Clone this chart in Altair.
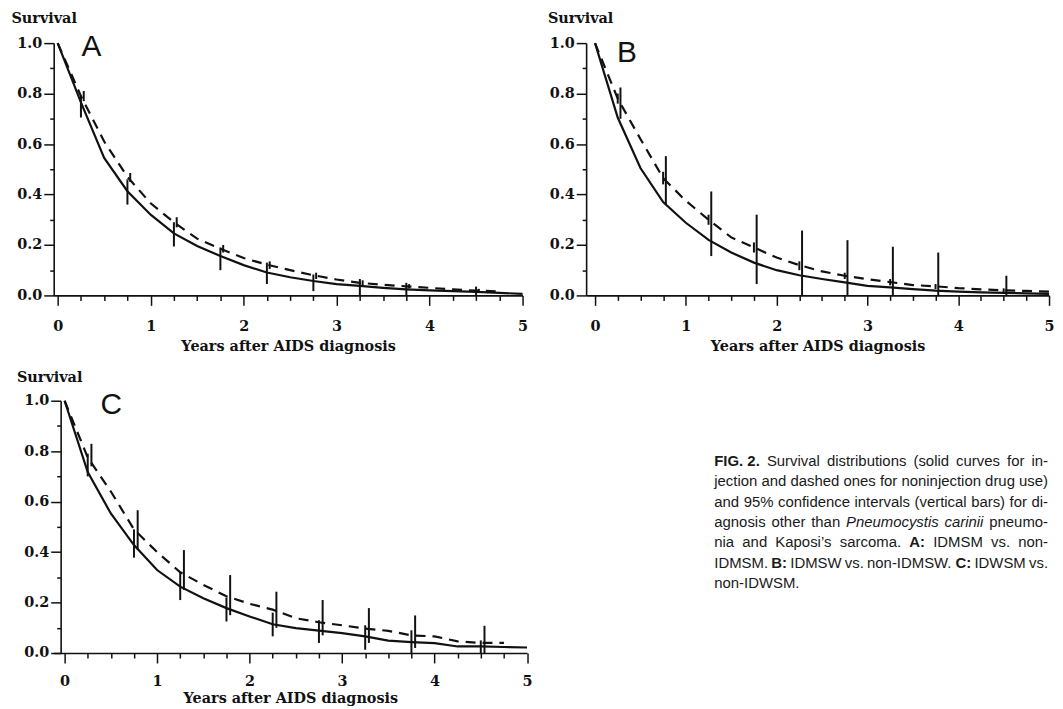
import altair as alt
import pandas as pd

# ---------------- data ----------------
t_grid = [0.0, 0.25, 0.5, 0.75, 1.0, 1.25, 1.5, 1.75, 2.0, 2.25, 2.5,
          2.75, 3.0, 3.25, 3.5, 3.75, 4.0, 4.25, 4.5, 4.75, 5.0]

a_solid = [1.0, 0.765, 0.545, 0.413, 0.32, 0.246, 0.196, 0.156, 0.12, 0.091, 0.072,
           0.057, 0.045, 0.038, 0.03, 0.024, 0.02, 0.017, 0.014, 0.01, 0.006]
a_dashed = [1.0, 0.79, 0.61, 0.47, 0.365, 0.29, 0.225, 0.185, 0.148, 0.122, 0.1,
            0.08, 0.063, 0.05, 0.042, 0.036, 0.03, 0.024, 0.019, 0.016]
b_solid = [1.0, 0.705, 0.505, 0.37, 0.288, 0.22, 0.17, 0.13, 0.10, 0.08, 0.065,
           0.052, 0.038, 0.032, 0.025, 0.019, 0.015, 0.012, 0.01, 0.008, 0.006]
b_dashed = [1.0, 0.78, 0.62, 0.465, 0.375, 0.30, 0.23, 0.19, 0.15, 0.12, 0.095,
            0.078, 0.064, 0.053, 0.041, 0.036, 0.029, 0.024, 0.02, 0.018, 0.015]
c_solid = [1.0, 0.717, 0.553, 0.428, 0.329, 0.263, 0.217, 0.178, 0.145, 0.114, 0.099,
           0.089, 0.079, 0.066, 0.049, 0.043, 0.039, 0.026, 0.026, 0.024, 0.022]
c_dashed = [1.0, 0.775, 0.64, 0.49, 0.40, 0.32, 0.27, 0.225, 0.195, 0.172, 0.138,
            0.122, 0.11, 0.097, 0.088, 0.07, 0.066, 0.046, 0.04, 0.04]

ci_t = [0.25, 0.75, 1.25, 1.75, 2.25, 2.75, 3.25, 3.75, 4.5]
a_solid_lo = [0.705, 0.36, 0.194, 0.10, 0.045, 0.017, 0.0, 0.0, 0.0]
a_solid_hi = [0.787, 0.46, 0.29, 0.19, 0.13, 0.083, 0.065, 0.05, 0.035]
a_dash_lo = [0.77, 0.45, 0.27, 0.17, 0.105, 0.065, 0.04, 0.028, 0.012]
a_dash_hi = [0.81, 0.485, 0.31, 0.20, 0.135, 0.09, 0.06, 0.045, 0.026]
b_solid_lo = [0.70, 0.36, 0.156, 0.045, 0.0, 0.0, 0.0, 0.0, 0.0]
b_solid_hi = [0.824, 0.552, 0.412, 0.32, 0.257, 0.219, 0.193, 0.17, 0.078]
b_dash_lo = [0.76, 0.44, 0.28, 0.17, 0.10, 0.065, 0.04, 0.025, 0.012]
b_dash_hi = [0.80, 0.49, 0.32, 0.21, 0.135, 0.09, 0.065, 0.045, 0.028]
c_solid_lo = [0.70, 0.378, 0.21, 0.125, 0.066, 0.04, 0.013, 0.0, 0.0]
c_solid_hi = [0.79, 0.49, 0.32, 0.22, 0.16, 0.13, 0.11, 0.09, 0.05]
c_dash_lo = [0.74, 0.41, 0.25, 0.15, 0.10, 0.07, 0.04, 0.02, 0.0]
c_dash_hi = [0.829, 0.566, 0.408, 0.309, 0.243, 0.21, 0.178, 0.149, 0.108]

x_ticks = [0.0, 0.25, 0.5, 0.75, 1.0, 1.25, 1.5, 1.75, 2.0, 2.25, 2.5, 2.75,
           3.0, 3.25, 3.5, 3.75, 4.0, 4.25, 4.5, 4.75, 5.0]
y_ticks = [0.0, 0.1, 0.2, 0.3, 0.4, 0.5, 0.6, 0.7, 0.8, 0.9, 1.0]

x_title = "Years after AIDS diagnosis"
y_title = "Survival"
panel_letters = ["A", "B", "C"]

caption_lines = [
    [("FIG. 2.", "b"), ("Survival", "n"), ("distributions", "n"), ("(solid", "n"),
     ("curves", "n"), ("for", "n"), ("in-", "n")],
    [("jection", "n"), ("and", "n"), ("dashed", "n"), ("ones", "n"), ("for", "n"),
     ("noninjection", "n"), ("drug", "n"), ("use)", "n")],
    [("and", "n"), ("95%", "n"), ("confidence", "n"), ("intervals", "n"),
     ("(vertical", "n"), ("bars)", "n"), ("for", "n"), ("di-", "n")],
    [("agnosis", "n"), ("other", "n"), ("than", "n"), ("Pneumocystis", "i"),
     ("carinii", "i"), ("pneumo-", "n")],
    [("nia", "n"), ("and", "n"), ("Kaposi\u2019s", "n"), ("sarcoma.", "n"), ("A:", "b"),
     ("IDMSM", "n"), ("vs.", "n"), ("non-", "n")],
    [("IDMSM.", "n"), ("B:", "b"), ("IDMSW", "n"), ("vs.", "n"), ("non-IDMSW.", "n"),
     ("C:", "b"), ("IDWSM", "n"), ("vs.", "n")],
    [("non-IDWSM.", "n")],
]

# ---------------- text measuring (Arial / Liberation Sans metrics) ----------------
REG = {' ': 278, '%': 889, '(': 333, ')': 333, '-': 333, '.': 278, ':': 278,
       '\u2019': 222, "'": 191}
for ch in "0123456789":
    REG[ch] = 556
REG.update(dict(zip("ABCDEFGHIJKLMNOPQRSTUVWXYZ",
                    [667, 667, 722, 722, 667, 611, 778, 722, 278, 500, 667, 556, 833,
                     722, 778, 667, 778, 722, 667, 611, 722, 667, 944, 667, 667, 611])))
REG.update(dict(zip("abcdefghijklmnopqrstuvwxyz",
                    [556, 556, 500, 556, 556, 278, 556, 556, 222, 222, 500, 222, 833,
                     556, 556, 556, 556, 333, 500, 278, 556, 500, 722, 500, 500, 500])))
BOLD = dict(REG)
BOLD.update({'A': 722, 'B': 722, 'C': 722, ':': 333, 'I': 278, 'G': 778, 'F': 611})
CAP_SIZE = 15


def text_w(word, style):
    table = BOLD if style == "b" else REG
    return sum(table.get(ch, 556) for ch in word) * CAP_SIZE / 1000.0


# ---------------- panel builder ----------------
PLOT_H = 254
BLACK = "#111111"
SERIF = "DejaVu Serif"


def make_axes(lab_pad, title_pad, surv_dx, surv_dy, y_offset):
    xaxis = alt.Axis(
        values=x_ticks, title=x_title, grid=False,
        labelExpr="datum.value % 1 == 0 ? format(datum.value, 'd') : ''",
        tickSize={"condition": {"test": "datum.value % 1 == 0", "value": 10}, "value": 5},
        labelFont=SERIF, labelFontWeight="bold", labelFontSize=14.5, labelColor=BLACK,
        labelPadding=lab_pad, labelFlush=False, labelOverlap=False,
        titleFont=SERIF, titleFontWeight="bold", titleFontSize=14.5, titleColor=BLACK,
        titlePadding=title_pad,
        domainColor=BLACK, domainWidth=1.6, tickColor=BLACK, tickWidth=1.5)
    yaxis = alt.Axis(
        values=y_ticks, title=y_title, grid=False, offset=y_offset,
        labelExpr="round(datum.value * 10) % 2 == 0 ? format(datum.value, '.1f') : ''",
        tickSize={"condition": {"test": "round(datum.value * 10) % 2 == 0", "value": 10},
                  "value": 4},
        labelFont=SERIF, labelFontWeight="bold", labelFontSize=14.5, labelColor=BLACK,
        labelPadding=2, labelOverlap=False,
        titleFont=SERIF, titleFontWeight="bold", titleFontSize=14.5, titleColor=BLACK,
        titleAngle=0, titleAlign="left", titleBaseline="alphabetic",
        titleX=surv_dx, titleY=surv_dy,
        domainColor=BLACK, domainWidth=1.6, tickColor=BLACK, tickWidth=1.5)
    return xaxis, yaxis


def panel(solid, dashed, s_lo, s_hi, d_lo, d_hi, s_off, d_off, xmin, width,
          letter, lx, ly, surv_dx, surv_dy, lab_pad, title_pad, y_offset=0, extra=None):
    xs = alt.Scale(domain=[xmin, 5.0], nice=False, zero=False)
    ys = alt.Scale(domain=[0.0, 1.0], nice=False, zero=False)
    xaxis, yaxis = make_axes(lab_pad, title_pad, surv_dx, surv_dy, y_offset)
    X = alt.X("t:Q", scale=xs, axis=xaxis)
    Y = alt.Y("S:Q", scale=ys, axis=yaxis)

    df_s = pd.DataFrame({"t": t_grid[:len(solid)], "S": solid})
    df_d = pd.DataFrame({"t": t_grid[:len(dashed)], "S": dashed})
    df_sb = pd.DataFrame({"t": [v + s_off for v in ci_t], "S": s_lo, "S2": s_hi})
    df_db = pd.DataFrame({"t": [v + d_off for v in ci_t], "S": d_lo, "S2": d_hi})

    solid_line = alt.Chart(df_s).mark_line(color=BLACK, strokeWidth=2.2).encode(x=X, y=Y)
    dash_line = alt.Chart(df_d).mark_line(color=BLACK, strokeWidth=2.2,
                                          strokeDash=[10, 7]).encode(x=X, y=Y)
    s_bars = alt.Chart(df_sb).mark_rule(color=BLACK, strokeWidth=2).encode(
        x=X, y=Y, y2="S2:Q")
    d_bars = alt.Chart(df_db).mark_rule(color=BLACK, strokeWidth=2).encode(
        x=X, y=Y, y2="S2:Q")
    lab = alt.Chart(pd.DataFrame({"l": [letter]})).mark_text(
        font="Liberation Sans", fontSize=30, align="left", baseline="alphabetic",
        color=BLACK).encode(text="l:N", x=alt.value(lx), y=alt.value(ly))
    layers = [solid_line, dash_line, s_bars, d_bars, lab]
    if extra:
        layers += [e(X, Y) for e in extra]
    return alt.layer(*layers).properties(width=width, height=PLOT_H)


# ---------------- layout (pixels) ----------------
A_XMIN, A_W = -0.043, 472
B_XMIN, B_W = -0.098, 466
C_XMIN, C_W = -0.118, 476.5     # C plot starts 7px left of its (offset) y axis

# caption, justified, placed in panel C's coordinates
CAP_LEFT, CAP_RIGHT = 665.0, 1001.0      # relative to C plot origin
CAP_BASE0, CAP_STEP = 65.5, 20.5
c_k = C_W / (5.0 - C_XMIN)
rows = []
for i, line in enumerate(caption_lines):
    widths = [text_w(w, s) for w, s in line]
    if i < len(caption_lines) - 1 and len(line) > 1:
        gap = (CAP_RIGHT - CAP_LEFT - sum(widths)) / (len(line) - 1)
    else:
        gap = text_w(" ", "n")
    x = CAP_LEFT
    for (w, s), wd in zip(line, widths):
        rows.append({"word": w, "style": s,
                     "t": C_XMIN + x / c_k,
                     "S": 1.0 - (CAP_BASE0 + i * CAP_STEP) / PLOT_H})
        x += wd + gap
cap_df = pd.DataFrame(rows)


def cap_layer(style, **kw):
    def build(X, Y):
        return alt.Chart(cap_df).transform_filter(
            alt.datum.style == style).mark_text(
            font="Liberation Sans", fontSize=CAP_SIZE, align="left",
            baseline="alphabetic", color="#1a1a1a", **kw).encode(
            x=X, y=Y, text="word:N")
    return build


pA = panel(a_solid, a_dashed, a_solid_lo, a_solid_hi, a_dash_lo, a_dash_hi, 0.0, 0.03,
           A_XMIN, A_W, panel_letters[0], 28, 13, -43, -20.5, 14, 7)
pB = panel(b_solid, b_dashed, b_solid_lo, b_solid_hi, b_dash_lo, b_dash_hi, 0.03, 0.0,
           B_XMIN, B_W, panel_letters[1], 31, 19, -39, -20.5, 14, 7)
pC = panel(c_solid, c_dashed, c_solid_lo, c_solid_hi, c_dash_lo, c_dash_hi, 0.0, 0.04,
           C_XMIN, C_W, panel_letters[2], 47, 13.5, -44.5, -19, 12, 3, y_offset=-7,
           extra=[cap_layer("n"), cap_layer("b", fontWeight="bold"),
                  cap_layer("i", fontStyle="italic")])

row1 = alt.hconcat(pA, pB, spacing=18)
chart = alt.vconcat(row1, pC, spacing=15).properties(
    padding={"left": 2, "top": 0, "right": 0, "bottom": 0},
    background="white",
).configure_view(stroke="transparent")

chart.save("out.html", embed_options={"renderer": "svg", "actions": False})
